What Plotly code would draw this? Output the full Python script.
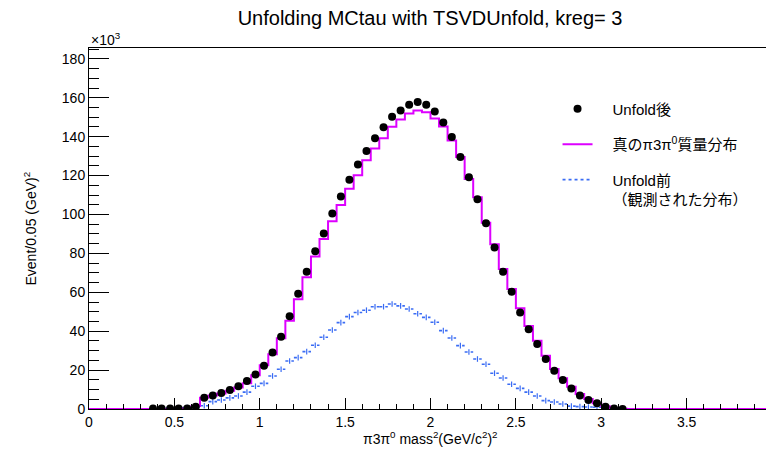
import numpy as np
import plotly.graph_objects as go

# ---- data (values in units of 10^3 events per 0.05 GeV^2 bin) ----
bin_width = 0.05
bin_edges = np.round(np.arange(0, 4.0 + 1e-9, bin_width), 2)   # 81 edges, 80 bins
bin_centers = np.round((bin_edges[:-1] + bin_edges[1:]) / 2, 3)

truth = [0, 0, 0, 0, 0, 0, 0, 0, 0, 0, 0.1, 0.3,
         1.5, 5.8, 6.9, 8.0, 9.4, 11.0, 13.2, 17.3, 22.5, 28.1,
         36.4, 45.4, 56.4, 67.8, 78.4, 87.4, 96.5, 104.9, 113.2, 120.2,
         127.9, 133.9, 139.2, 145.1, 148.8, 151.9, 153.5, 152.6, 149.3, 145.2,
         138.0, 129.5, 118.3, 108.9, 95.8, 84.7, 72.0, 61.7, 51.8, 42.7,
         35.1, 27.4, 20.6, 15.8, 11.5, 7.7, 5.1, 2.9, 1.4, 0.5,
         0.1, 0, 0, 0, 0, 0, 0, 0, 0, 0,
         0, 0, 0, 0, 0, 0, 0, 0]

unfolded_first_bin = 7
unfolded = [0.2, 0.2, 0.2, 0.3, 0.3, 1.2, 5.8, 6.9, 8.2, 9.8,
            11.7, 14.4, 17.7, 22.3, 29.0, 37.2, 47.7, 59.2, 70.5, 81.1,
            90.2, 100.5, 109.2, 117.8, 125.7, 132.6, 139.2, 144.9, 150.2, 153.5,
            156.4, 157.9, 156.4, 152.9, 147.3, 139.8, 129.6, 119.2, 107.9, 95.5,
            83.0, 70.5, 60.3, 49.6, 41.0, 33.4, 25.7, 19.7, 14.9, 10.6,
            7.0, 4.6, 2.9, 1.2, 0.3, 0.0]

measured_first_bin = 8
measured = [0.2, 0.5, 0.6, 0.8, 1.0, 1.7, 3.8, 4.6, 5.7, 6.7,
            8.7, 11.7, 13.2, 17.0, 20.4, 24.7, 26.4, 29.5, 32.8, 36.9,
            40.6, 44.4, 47.5, 49.6, 50.8, 52.6, 52.6, 54.0, 53.0, 51.4,
            49.0, 47.1, 44.6, 40.3, 36.5, 32.6, 29.3, 25.7, 23.0, 18.4,
            15.9, 12.7, 10.6, 8.7, 6.7, 4.3, 3.6, 2.6, 1.5, 1.2,
            1.0, 0.9, 0.5, 0.3, 0.1]

title_text = "Unfolding MCtau with TSVDUnfold, kreg= 3"
x_title = "π3π<sup>0</sup> mass<sup>2</sup>(GeV/c<sup>2</sup>)<sup>2</sup>"
y_title = "Event/0.05 (GeV)<sup>2</sup>"
name_unfolded = "Unfold後"
name_truth = "真のπ3π<sup>0</sup>質量分布"
name_measured_lines = ["Unfold前", "（観測された分布）"]

FONT = "Liberation Sans, Arial, Noto Sans CJK JP, sans-serif"
PAD = "\u2003"  # visual gap between legend symbol and text

# ---- derived plotting arrays ----
unf_x = bin_centers[unfolded_first_bin:unfolded_first_bin + len(unfolded)]
mea_x = bin_centers[measured_first_bin:measured_first_bin + len(measured)]
mea_lo = bin_edges[measured_first_bin:measured_first_bin + len(measured)]
mea_hi = bin_edges[measured_first_bin + 1:measured_first_bin + 1 + len(measured)]

step_x = list(bin_edges)
step_y = list(truth) + [truth[-1]]

seg_x, seg_y = [], []
for lo, hi, v in zip(mea_lo, mea_hi, measured):
    seg_x += [lo, hi, None]
    seg_y += [v, v, None]

blue = "#3a6cf4"
magenta = "#dd00ff"

fig = go.Figure()

fig.add_trace(go.Scatter(
    x=seg_x, y=seg_y, mode="lines",
    name="<br>".join(PAD + s for s in name_measured_lines), legendrank=3,
    legendgroup="g3",
    line=dict(color=blue, width=1.6, dash="dot"), hoverinfo="skip"))
fig.add_trace(go.Scatter(
    x=mea_x, y=measured, mode="markers", showlegend=False, legendgroup="g3",
    marker=dict(symbol="line-ns", size=4, line=dict(color=blue, width=1.2))))

fig.add_trace(go.Scatter(
    x=step_x, y=step_y, mode="lines", name=PAD + name_truth, legendrank=2,
    legendgroup="g2",
    line=dict(color=magenta, width=2, shape="hv")))

fig.add_trace(go.Scatter(
    x=unf_x, y=unfolded, mode="markers", name=PAD + name_unfolded, legendrank=1,
    legendgroup="g1",
    marker=dict(symbol="circle", size=8, color="black")))

# The page body has an 8px margin, so the figure is sized 8px smaller
fig.update_layout(
    width=766, height=442,
    margin=dict(l=81, r=2, t=40, b=41, autoexpand=False),
    paper_bgcolor="white", plot_bgcolor="white",
    font=dict(family=FONT, size=13, color="black"),
    title=dict(text=title_text, x=0.551, xanchor="center", y=0.977, yanchor="middle",
               font=dict(size=20, family=FONT)),
    showlegend=True,
    legend=dict(x=0.686, xanchor="left", y=0.877, yanchor="top",
                bgcolor="rgba(0,0,0,0)", borderwidth=0,
                font=dict(size=15, family=FONT), itemwidth=30,
                tracegroupgap=13, valign="top"),
    xaxis=dict(range=[0, 4], tickmode="linear", tick0=0, dtick=0.5,
               ticks="inside", ticklen=11, tickcolor="black", tickwidth=1,
               minor=dict(dtick=0.1, ticks="inside", ticklen=5, tickcolor="black"),
               showline=True, linecolor="black", linewidth=1, mirror=True,
               showgrid=False, zeroline=False, automargin=False,
               ticklabeloverflow="allow",
               tickfont=dict(size=14)),
    yaxis=dict(range=[0, 185.6], tickmode="linear", tick0=0, dtick=20,
               ticks="inside", ticklen=20, tickcolor="black", tickwidth=1,
               minor=dict(dtick=5, ticks="inside", ticklen=10, tickcolor="black"),
               showline=True, linecolor="black", linewidth=1, mirror=True,
               showgrid=False, zeroline=False, automargin=False,
               tickfont=dict(size=14)),
)

fig.add_annotation(text="×10<sup>3</sup>", xref="paper", yref="paper",
                   x=0, y=1.0, xanchor="left", yanchor="bottom", yshift=-2,
                   showarrow=False, font=dict(size=14, family=FONT))
fig.add_annotation(text=x_title, xref="paper", yref="paper",
                   x=0.5, y=0, xanchor="center", yanchor="middle", yshift=-29,
                   showarrow=False, font=dict(size=14, family=FONT))
fig.add_annotation(text=y_title, xref="paper", yref="paper", textangle=-90,
                   x=0, y=0.5, xanchor="center", yanchor="middle", xshift=-59,
                   showarrow=False, font=dict(size=14, family=FONT))

fig.write_html("out.html")
